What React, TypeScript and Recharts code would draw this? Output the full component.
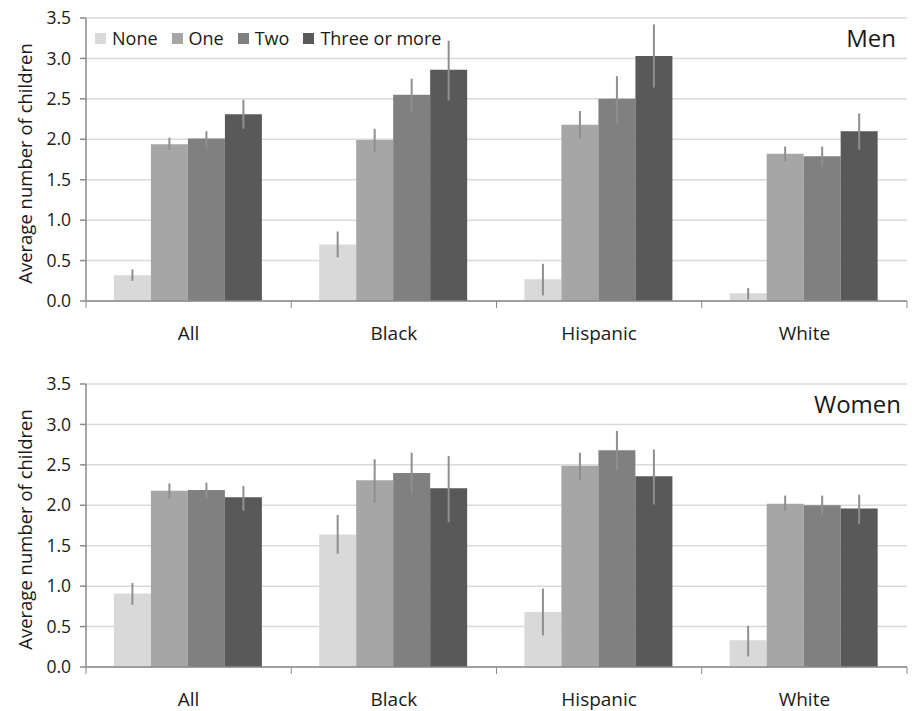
import { Bar, BarChart, CartesianGrid, ErrorBar, XAxis, YAxis } from "recharts";

const categories = ["All", "Black", "Hispanic", "White"];
const seriesNames = ["None", "One", "Two", "Three or more"];
const seriesColors = ["#d9d9d9", "#a6a6a6", "#808080", "#595959"];
const yTicks = [0, 0.5, 1, 1.5, 2, 2.5, 3, 3.5];

// Men: mean, lower and upper end of the error bar, one array per series
const menMean = [
  [0.32, 0.7, 0.27, 0.095],
  [1.94, 1.99, 2.18, 1.82],
  [2.01, 2.55, 2.5, 1.79],
  [2.31, 2.86, 3.03, 2.1],
];
const menLow = [
  [0.25, 0.54, 0.07, 0.02],
  [1.87, 1.84, 2.01, 1.73],
  [1.9, 2.34, 2.2, 1.66],
  [2.13, 2.48, 2.64, 1.87],
];
const menHigh = [
  [0.39, 0.86, 0.46, 0.16],
  [2.02, 2.13, 2.35, 1.91],
  [2.1, 2.75, 2.78, 1.91],
  [2.49, 3.22, 3.42, 2.32],
];

// Women
const womenMean = [
  [0.91, 1.64, 0.68, 0.33],
  [2.18, 2.31, 2.49, 2.02],
  [2.19, 2.4, 2.68, 2.0],
  [2.1, 2.21, 2.36, 1.96],
];
const womenLow = [
  [0.77, 1.4, 0.39, 0.13],
  [2.08, 2.03, 2.31, 1.93],
  [2.08, 2.15, 2.43, 1.88],
  [1.93, 1.79, 2.01, 1.77],
];
const womenHigh = [
  [1.04, 1.88, 0.97, 0.51],
  [2.27, 2.57, 2.65, 2.12],
  [2.28, 2.65, 2.92, 2.12],
  [2.24, 2.61, 2.69, 2.13],
];

const W = 912;
const H = 345;
const AXIS_W = 86;
const RIGHT = 5;
const HALF_BAND = (W - AXIS_W - RIGHT) / categories.length / 2;
const FONT = "'Open Sans', sans-serif";
const TEXT = "#1a1a1a";
const AXIS = "#8a8a8a";

const buildRows = (mean: number[][], low: number[][], high: number[][]) =>
  categories.map((cat, i) => {
    const row: Record<string, unknown> = { cat };
    mean.forEach((vals, s) => {
      row["s" + s] = vals[i];
      row["e" + s] = [vals[i] - low[s][i], high[s][i] - vals[i]];
    });
    return row;
  });

const CategoryTick = (props: any) => {
  const { x, y, payload, index } = props;
  return (
    <g>
      <line x1={x - HALF_BAND} y1={y - 7} x2={x - HALF_BAND} y2={y} stroke={AXIS} />
      {index === categories.length - 1 && (
        <line x1={x + HALF_BAND} y1={y - 7} x2={x + HALF_BAND} y2={y} stroke={AXIS} />
      )}
      <text x={x} y={y + 32} textAnchor="middle" fontSize={19} fontFamily={FONT} fill={TEXT}>
        {payload.value}
      </text>
    </g>
  );
};

const Panel = ({
  rows,
  title,
  top,
  titleRight,
  legend,
}: {
  rows: any[];
  title: string;
  top: number;
  titleRight: number;
  legend?: boolean;
}) => (
  <div style={{ position: "absolute", left: 0, top, width: W, height: H }}>
    <BarChart
      width={W}
      height={H}
      data={rows}
      margin={{ top: 18, right: RIGHT, bottom: 0, left: 0 }}
      barCategoryGap="13.6%"
      barGap={0}
    >
      <CartesianGrid vertical={false} stroke="#d9d9d9" strokeWidth={1.5} />
      <XAxis
        dataKey="cat"
        height={44}
        stroke={AXIS}
        strokeWidth={1.5}
        tickLine={false}
        tickSize={7}
        tickMargin={0}
        tick={<CategoryTick />}
        interval={0}
      />
      <YAxis
        width={AXIS_W}
        domain={[0, 3.5]}
        ticks={yTicks}
        tickFormatter={(v: number) => v.toFixed(1)}
        stroke={AXIS}
        strokeWidth={1.5}
        tickSize={6}
        tickMargin={9}
        tick={{ fontSize: 17.5, fontFamily: FONT, fill: TEXT }}
        label={{
          value: "Average number of children",
          angle: -90,
          position: "insideLeft",
          offset: 25,
          dy: 4,
          style: { textAnchor: "middle", fontSize: 18.5, fontFamily: FONT, fill: TEXT },
        }}
      />
      {seriesNames.map((name, s) => (
        <Bar key={name} dataKey={"s" + s} name={name} fill={seriesColors[s]} isAnimationActive={false}>
          <ErrorBar dataKey={"e" + s} width={0} stroke="#8f8f8f" strokeWidth={2} isAnimationActive={false} />
        </Bar>
      ))}
    </BarChart>
    <div
      style={{
        position: "absolute",
        right: W - titleRight,
        top: 22,
        fontFamily: FONT,
        fontSize: 24,
        color: TEXT,
        lineHeight: "32px",
      }}
    >
      {title}
    </div>
    {legend && (
      <div
        style={{
          position: "absolute",
          left: 95,
          top: 26,
          display: "flex",
          alignItems: "center",
          fontFamily: FONT,
          fontSize: 18,
          color: TEXT,
          lineHeight: "24px",
        }}
      >
        {seriesNames.map((name, s) => (
          <div key={name} style={{ display: "flex", alignItems: "center", marginRight: 14 }}>
            <span style={{ width: 11, height: 11, background: seriesColors[s], marginRight: 6 }} />
            <span>{name}</span>
          </div>
        ))}
      </div>
    )}
  </div>
);

export default function App() {
  return (
    <div style={{ position: "absolute", left: 0, top: 0, width: W, height: 711, background: "#fff" }}>
      <Panel rows={buildRows(menMean, menLow, menHigh)} title="Men" top={0} titleRight={896} legend />
      <Panel rows={buildRows(womenMean, womenLow, womenHigh)} title="Women" top={366} titleRight={901} />
    </div>
  );
}
